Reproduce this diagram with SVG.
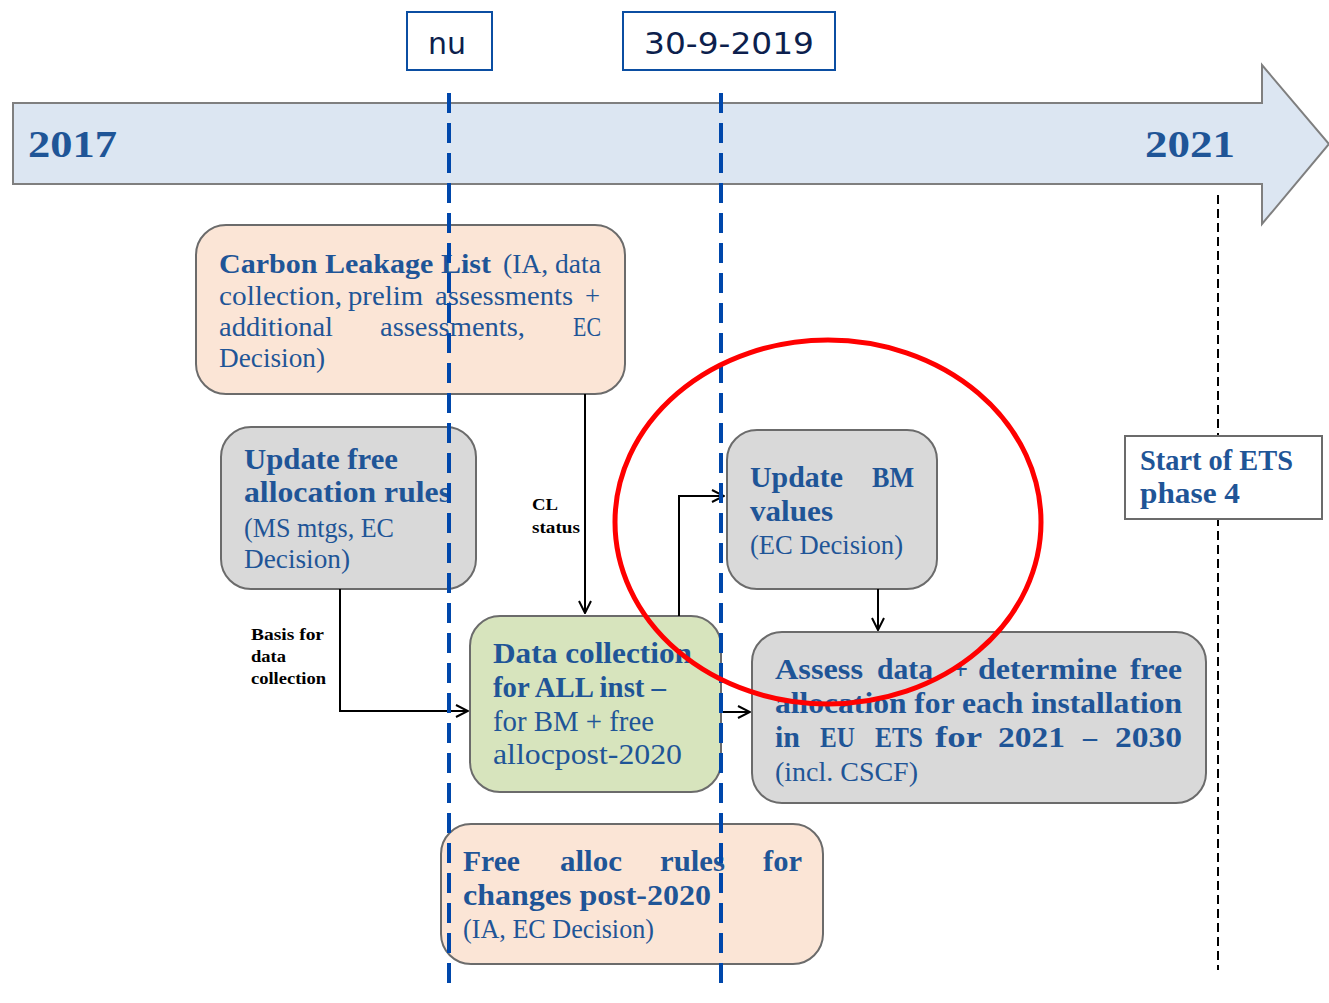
<svg xmlns="http://www.w3.org/2000/svg" width="1329" height="1003" viewBox="0 0 1329 1003">
<style>
.t{font-family:"Liberation Serif","DejaVu Serif",serif;fill:#1f5597;}
.b{font-weight:bold;}
.box{stroke:#6b6b6b;stroke-width:2;}
.peach{fill:#fbe5d6;}
.grey{fill:#d9d9d9;}
.green{fill:#d7e4bd;}
.lbl{font-family:"Liberation Serif",serif;font-weight:bold;font-size:17px;fill:#000;}
.date{font-family:"DejaVu Sans","Liberation Sans",sans-serif;font-size:30px;fill:#0d1f4d;}
.conn{fill:none;stroke:#000;stroke-width:2;}
</style>
<defs>
<marker id="arr" viewBox="0 0 14 14" refX="13" refY="7" markerWidth="14" markerHeight="14" markerUnits="userSpaceOnUse" orient="auto">
<polyline points="1,1 13,7 1,13" fill="none" stroke="#000" stroke-width="2"/>
</marker>
</defs>
<rect width="1329" height="1003" fill="#fff"/>
<g id="timeline">
<polygon points="13,103 1262,103 1262,65 1329,144 1262,224 1262,184 13,184" fill="#dce6f2" stroke="#7f7f7f" stroke-width="2"/>
<text class="t b" x="28" y="157" font-size="38" textLength="89" lengthAdjust="spacingAndGlyphs">2017</text>
<text class="t b" x="1145" y="157" font-size="38" textLength="90" lengthAdjust="spacingAndGlyphs">2021</text>
</g>
<g id="phase4-line">
<line x1="1218" y1="195" x2="1218" y2="970" stroke="#000" stroke-width="2" stroke-dasharray="9,5"/>
</g>
<g id="cl-list">
<rect class="box peach" x="196" y="225" width="429" height="169" rx="30"/>
<text class="t b" x="219" y="273" font-size="27" textLength="272" lengthAdjust="spacingAndGlyphs">Carbon Leakage List</text>
<text class="t" x="503" y="273" font-size="27" textLength="98" lengthAdjust="spacingAndGlyphs">(IA, data</text>
<text class="t" x="219" y="305" font-size="27" textLength="123" lengthAdjust="spacingAndGlyphs">collection,</text>
<text class="t" x="348" y="305" font-size="27" textLength="75" lengthAdjust="spacingAndGlyphs">prelim</text>
<text class="t" x="435" y="305" font-size="27" textLength="138" lengthAdjust="spacingAndGlyphs">assessments</text>
<text class="t" x="585" y="305" font-size="27" textLength="15" lengthAdjust="spacingAndGlyphs">+</text>
<text class="t" x="219" y="336" font-size="27" textLength="114" lengthAdjust="spacingAndGlyphs">additional</text>
<text class="t" x="380" y="336" font-size="27" textLength="145" lengthAdjust="spacingAndGlyphs">assessments,</text>
<text class="t" x="573" y="336" font-size="27" textLength="28" lengthAdjust="spacingAndGlyphs">EC</text>
<text class="t" x="219" y="367" font-size="27" textLength="106" lengthAdjust="spacingAndGlyphs">Decision)</text>
</g>
<g id="update-rules">
<rect class="box grey" x="221" y="427" width="255" height="162" rx="30"/>
<text class="t b" x="244" y="469" font-size="29" textLength="154" lengthAdjust="spacingAndGlyphs">Update free</text>
<text class="t b" x="244" y="502" font-size="29" textLength="207" lengthAdjust="spacingAndGlyphs">allocation rules</text>
<text class="t" x="244" y="537" font-size="27" textLength="150" lengthAdjust="spacingAndGlyphs">(MS mtgs, EC</text>
<text class="t" x="244" y="568" font-size="27" textLength="106" lengthAdjust="spacingAndGlyphs">Decision)</text>
</g>
<g id="data-collection">
<rect class="box green" x="470" y="616" width="251" height="176" rx="30"/>
<text class="t b" x="493" y="663" font-size="29" textLength="199" lengthAdjust="spacingAndGlyphs">Data collection</text>
<text class="t b" x="493" y="697" font-size="29" textLength="173" lengthAdjust="spacingAndGlyphs">for ALL inst –</text>
<text class="t" x="493" y="731" font-size="29" textLength="161" lengthAdjust="spacingAndGlyphs">for BM + free</text>
<text class="t" x="493" y="764" font-size="29" textLength="189" lengthAdjust="spacingAndGlyphs">allocpost-2020</text>
</g>
<g id="update-bm">
<rect class="box grey" x="727" y="430" width="210" height="159" rx="30"/>
<text class="t b" x="750" y="487" font-size="29" textLength="93" lengthAdjust="spacingAndGlyphs">Update</text>
<text class="t b" x="872" y="487" font-size="29" textLength="42" lengthAdjust="spacingAndGlyphs">BM</text>
<text class="t b" x="750" y="521" font-size="29" textLength="83" lengthAdjust="spacingAndGlyphs">values</text>
<text class="t" x="750" y="554" font-size="27" textLength="153" lengthAdjust="spacingAndGlyphs">(EC Decision)</text>
</g>
<g id="assess">
<rect class="box grey" x="752" y="632" width="454" height="171" rx="30"/>
<text class="t b" x="775" y="679" font-size="29" textLength="88" lengthAdjust="spacingAndGlyphs">Assess</text>
<text class="t b" x="877" y="679" font-size="29" textLength="56" lengthAdjust="spacingAndGlyphs">data</text>
<text class="t b" x="953" y="679" font-size="29" textLength="15" lengthAdjust="spacingAndGlyphs">+</text>
<text class="t b" x="978" y="679" font-size="29" textLength="139" lengthAdjust="spacingAndGlyphs">determine</text>
<text class="t b" x="1130" y="679" font-size="29" textLength="52" lengthAdjust="spacingAndGlyphs">free</text>
<text class="t b" x="775" y="713" font-size="29" textLength="407" lengthAdjust="spacingAndGlyphs">allocation for each installation</text>
<text class="t b" x="775" y="747" font-size="29" textLength="25" lengthAdjust="spacingAndGlyphs">in</text>
<text class="t b" x="820" y="747" font-size="29" textLength="35" lengthAdjust="spacingAndGlyphs">EU</text>
<text class="t b" x="875" y="747" font-size="29" textLength="48" lengthAdjust="spacingAndGlyphs">ETS</text>
<text class="t b" x="935" y="747" font-size="29" textLength="47" lengthAdjust="spacingAndGlyphs">for</text>
<text class="t b" x="998" y="747" font-size="29" textLength="67" lengthAdjust="spacingAndGlyphs">2021</text>
<text class="t b" x="1083" y="747" font-size="29" textLength="14" lengthAdjust="spacingAndGlyphs">–</text>
<text class="t b" x="1115" y="747" font-size="29" textLength="67" lengthAdjust="spacingAndGlyphs">2030</text>
<text class="t" x="775" y="781" font-size="27" textLength="143" lengthAdjust="spacingAndGlyphs">(incl. CSCF)</text>
</g>
<g id="free-alloc">
<rect class="box peach" x="441" y="824" width="382" height="140" rx="30"/>
<text class="t b" x="463" y="871" font-size="29" textLength="57" lengthAdjust="spacingAndGlyphs">Free</text>
<text class="t b" x="560" y="871" font-size="29" textLength="62" lengthAdjust="spacingAndGlyphs">alloc</text>
<text class="t b" x="660" y="871" font-size="29" textLength="65" lengthAdjust="spacingAndGlyphs">rules</text>
<text class="t b" x="763" y="871" font-size="29" textLength="39" lengthAdjust="spacingAndGlyphs">for</text>
<text class="t b" x="463" y="905" font-size="29" textLength="248" lengthAdjust="spacingAndGlyphs">changes post-2020</text>
<text class="t" x="463" y="938" font-size="27" textLength="191" lengthAdjust="spacingAndGlyphs">(IA, EC Decision)</text>
</g>
<g id="start-ets">
<rect x="1125" y="436" width="197" height="83" fill="#fff" stroke="#6b6b6b" stroke-width="2"/>
<text class="t b" x="1140" y="470" font-size="29" textLength="153" lengthAdjust="spacingAndGlyphs">Start of ETS</text>
<text class="t b" x="1140" y="503" font-size="29" textLength="100" lengthAdjust="spacingAndGlyphs">phase 4</text>
</g>
<g id="connectors">
<polyline class="conn" points="585,394 585,613" marker-end="url(#arr)"/>
<polyline class="conn" points="340,589 340,711 468,711" marker-end="url(#arr)"/>
<polyline class="conn" points="679,616 679,496 724,496" marker-end="url(#arr)"/>
<polyline class="conn" points="721,712 750,712" marker-end="url(#arr)"/>
<polyline class="conn" points="878,589 878,630" marker-end="url(#arr)"/>
<text class="lbl" x="532" y="510" textLength="26" lengthAdjust="spacingAndGlyphs">CL</text>
<text class="lbl" x="532" y="533" textLength="48" lengthAdjust="spacingAndGlyphs">status</text>
<text class="lbl" x="251" y="640" textLength="73" lengthAdjust="spacingAndGlyphs">Basis for</text>
<text class="lbl" x="251" y="662" textLength="35" lengthAdjust="spacingAndGlyphs">data</text>
<text class="lbl" x="251" y="684" textLength="75" lengthAdjust="spacingAndGlyphs">collection</text>
</g>
<g id="marker-lines">
<line x1="449" y1="93" x2="449" y2="993" stroke="#0047ab" stroke-width="4" stroke-dasharray="20,10"/>
<line x1="721" y1="93" x2="721" y2="993" stroke="#0047ab" stroke-width="4" stroke-dasharray="20,10"/>
</g>
<g id="nu">
<rect x="407" y="12" width="85" height="58" fill="#fff" stroke="#0b4ea2" stroke-width="2"/>
<text class="date" x="447" y="54" text-anchor="middle">nu</text>
</g>
<g id="date-2019">
<rect x="623" y="12" width="212" height="58" fill="#fff" stroke="#0b4ea2" stroke-width="2"/>
<text class="date" x="729" y="54" text-anchor="middle" textLength="170" lengthAdjust="spacingAndGlyphs">30-9-2019</text>
</g>
<g id="highlight">
<ellipse cx="828" cy="522" rx="213" ry="182" fill="none" stroke="#ff0000" stroke-width="5"/>
</g>
</svg>
